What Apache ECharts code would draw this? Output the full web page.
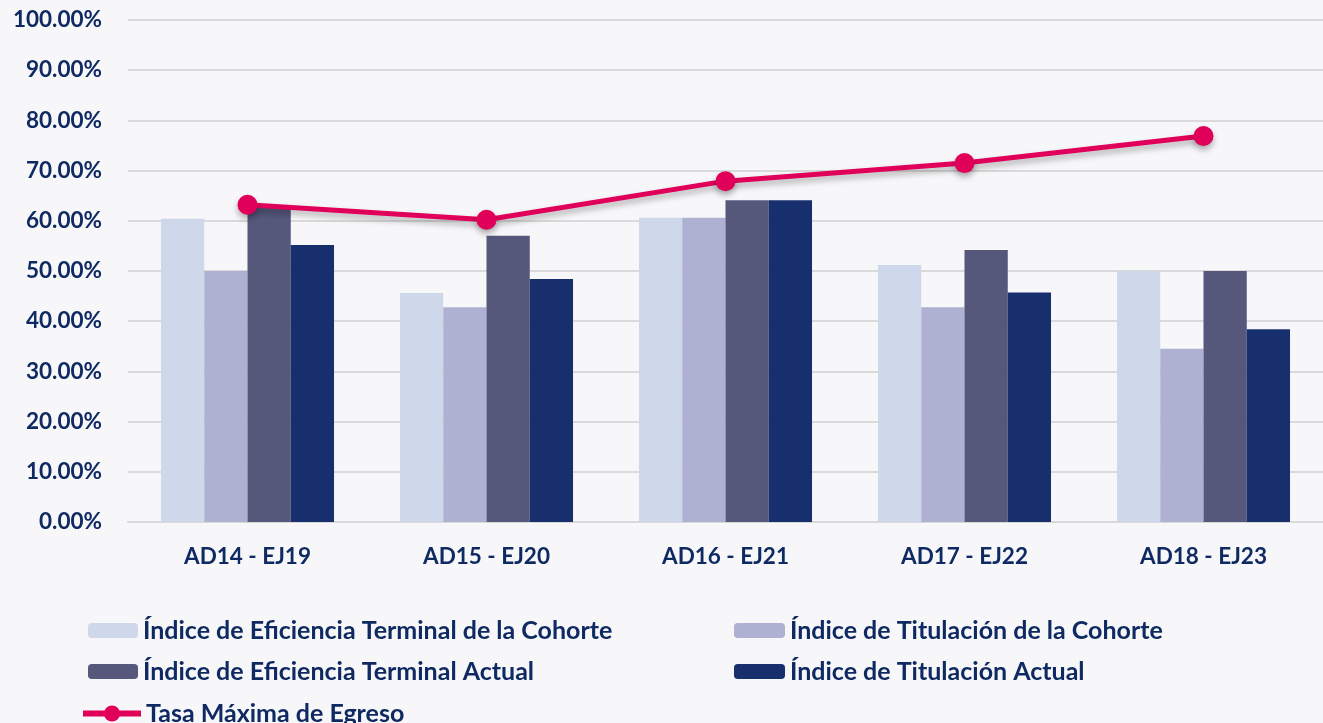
<!DOCTYPE html>
<html>
<head>
<meta charset="utf-8">
<script src="https://cdn.jsdelivr.net/npm/echarts@6/dist/echarts.min.js"></script>
<style>
  html, body { margin: 0; padding: 0; background: #f7f7f9; }
  #chart-container { width: 1323px; height: 723px; }
</style>
</head>
<body>
<div id="chart-container"></div>
<script>
var categories = ['AD14 - EJ19', 'AD15 - EJ20', 'AD16 - EJ21', 'AD17 - EJ22', 'AD18 - EJ23'];
var eficienciaCohorte = [60.4, 45.6, 60.6, 51.2, 50.0];
var titulacionCohorte = [50.0, 42.8, 60.6, 42.8, 34.5];
var eficienciaActual = [63.0, 57.0, 64.1, 54.2, 50.0];
var titulacionActual = [55.2, 48.4, 64.1, 45.7, 38.4];
var tasaMaxima = [63.2, 60.2, 67.9, 71.5, 76.9];
var seriesNames = [
  'Índice de Eficiencia Terminal de la Cohorte',
  'Índice de Titulación de la Cohorte',
  'Índice de Eficiencia Terminal Actual',
  'Índice de Titulación Actual',
  'Tasa Máxima de Egreso'
];

var dom = document.getElementById('chart-container');
var myChart = echarts.init(dom, null, { renderer: 'canvas' });
var textColor = '#0f2a62';
var fontFamily = 'Lato, sans-serif';

function legendAt(name, left, top, w, h) {
  return {
    data: [name],
    left: left,
    top: top,
    itemWidth: w,
    itemHeight: h || 15,
    padding: 0,
    lineStyle: { width: 6 },
    textStyle: { color: textColor, fontFamily: fontFamily, fontWeight: 'bold', fontSize: 25 }
  };
}

var option = {
  backgroundColor: '#f7f7f9',
  textStyle: { fontFamily: fontFamily },
  grid: { left: 128, right: 0, top: 20, bottom: 201, containLabel: false },
  legend: [
    legendAt(seriesNames[0], 88, 618, 50),
    legendAt(seriesNames[1], 734, 618, 51),
    legendAt(seriesNames[2], 88, 659, 50),
    legendAt(seriesNames[3], 734, 659, 51),
    legendAt(seriesNames[4], 80, 701, 58, 20)
  ],
  xAxis: {
    type: 'category',
    data: categories,
    axisLine: { lineStyle: { color: '#d9d9d9', width: 2 } },
    axisTick: { show: false },
    axisLabel: { color: textColor, fontWeight: 'bold', fontSize: 22.5, margin: 23, fontFamily: fontFamily }
  },
  yAxis: {
    type: 'value',
    min: 0,
    max: 100,
    interval: 10,
    axisLine: { show: false },
    axisTick: { show: false },
    splitLine: { lineStyle: { color: '#dadada', width: 2 } },
    axisLabel: {
      color: textColor, fontWeight: 'bold', fontSize: 22.5, margin: 26, fontFamily: fontFamily,
      formatter: function (v) { return v.toFixed(2) + '%'; }
    }
  },
  series: [
    { name: seriesNames[0], type: 'bar', data: eficienciaCohorte, barGap: 0, barCategoryGap: '27.6%', itemStyle: { color: '#cfd8ea' } },
    { name: seriesNames[1], type: 'bar', data: titulacionCohorte, itemStyle: { color: '#aeb1d1' } },
    { name: seriesNames[2], type: 'bar', data: eficienciaActual, itemStyle: { color: '#55577b' } },
    { name: seriesNames[3], type: 'bar', data: titulacionActual, itemStyle: { color: '#182f6e' } },
    {
      name: seriesNames[4], type: 'line', data: tasaMaxima,
      symbol: 'circle', symbolSize: 20,
      lineStyle: { color: '#e0005a', width: 5, shadowColor: 'rgba(0,0,0,0.3)', shadowBlur: 6, shadowOffsetY: 4 },
      itemStyle: { color: '#e0005a', shadowColor: 'rgba(0,0,0,0.3)', shadowBlur: 6, shadowOffsetY: 4 },
      z: 5
    }
  ]
};
myChart.setOption(option);
window.addEventListener('resize', myChart.resize);
</script>
</body>
</html>
